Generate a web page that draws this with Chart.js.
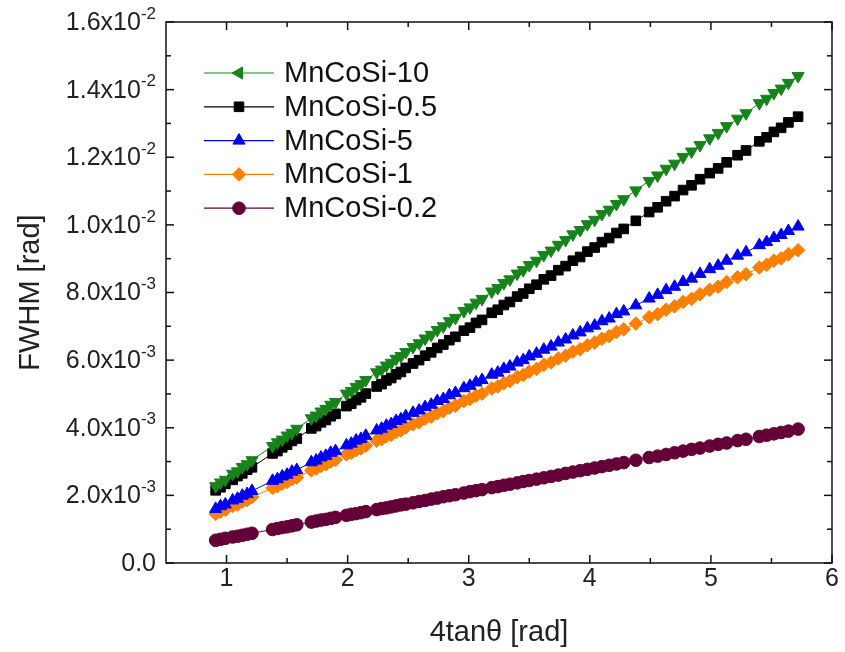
<!DOCTYPE html>
<html>
<head>
<meta charset="utf-8">
<script src="https://cdn.jsdelivr.net/npm/chart.js@4/dist/chart.umd.min.js"></script>
<style>
  body{margin:0;background:#fff;}
  #wrap{width:845px;height:652px;position:relative;}
</style>
</head>
<body>
<div id="wrap"><canvas id="chart"></canvas></div>
<script>
// 4tan(theta) positions, shared by all samples (peaks come in clusters)
const xVals=[0.91,0.95,0.99, 1.05,1.09,1.13,1.17,1.21, 1.38,1.42,1.46,1.50,1.54,1.58,
  1.70,1.74,1.78,1.82,1.86,1.90, 1.99,2.03,2.07,2.11,2.15, 2.24,2.28,2.32,2.36,2.40,2.44,2.48,
  2.54,2.59,2.64,2.69,2.74,2.79,2.84,2.89, 2.96,3.01,3.06,3.11, 3.19,3.24,3.29,3.34,
  3.40,3.45,3.50,3.56,3.62,3.68,3.74,3.80,3.86,3.92, 3.98,4.04,4.10,4.16,4.22,4.28, 4.38,
  4.49,4.56,4.63,4.70, 4.77,4.84,4.91, 4.99,5.06,5.13, 5.22,5.29, 5.40,5.46,5.52,5.58,5.64,5.72];

// FWHM values in units of 1e-3 rad
const mn10=[2.27,2.38,2.46, 2.64,2.71,2.84,2.92,3.04, 3.46,3.57,3.65,3.77,3.85,3.97,
  4.28,4.36,4.48,4.56,4.68,4.76, 5.01,5.09,5.21,5.29,5.41, 5.64,5.72,5.84,5.92,6.04,6.12,6.24,
  6.39,6.50,6.64,6.75,6.89,7.00,7.15,7.25, 7.45,7.56,7.70,7.81, 8.03,8.13,8.28,8.39,
  8.56,8.66,8.81,8.94,9.11,9.24,9.41,9.55,9.72,9.85, 10.02,10.15,10.32,10.45,10.62,10.76, 11.02,
  11.30,11.46,11.66,11.81, 12.01,12.17,12.36, 12.56,12.72,12.92, 13.14,13.30, 13.60,13.73,13.90,14.03,14.20,14.40];
const mn05=[2.15,2.24,2.34, 2.46,2.57,2.65,2.76,2.83, 3.24,3.31,3.42,3.50,3.61,3.68,
  3.98,4.05,4.16,4.23,4.34,4.41, 4.64,4.71,4.82,4.90,5.01, 5.22,5.29,5.40,5.47,5.58,5.65,5.77,
  5.90,6.00,6.13,6.23,6.36,6.46,6.59,6.69, 6.87,6.96,7.10,7.19, 7.40,7.49,7.63,7.72,
  7.88,7.97,8.11,8.23,8.39,8.50,8.66,8.78,8.94,9.05, 9.21,9.33,9.49,9.61,9.76,9.88, 10.12,
  10.38,10.52,10.70,10.85, 11.03,11.17,11.35, 11.53,11.67,11.85, 12.06,12.20, 12.47,12.59,12.75,12.87,13.03,13.20];
const mn5=[1.60,1.68,1.73, 1.85,1.90,1.99,2.04,2.13, 2.43,2.48,2.56,2.61,2.70,2.75,
  2.98,3.03,3.12,3.17,3.26,3.31, 3.48,3.53,3.62,3.67,3.76, 3.92,3.97,4.06,4.11,4.20,4.25,4.34,
  4.44,4.51,4.61,4.68,4.79,4.85,4.96,5.03, 5.17,5.24,5.34,5.41, 5.57,5.63,5.74,5.81,
  5.93,6.00,6.11,6.19,6.31,6.40,6.52,6.61,6.73,6.82, 6.94,7.02,7.15,7.23,7.36,7.44, 7.62,
  7.82,7.93,8.07,8.17, 8.31,8.41,8.55, 8.69,8.79,8.94, 9.09,9.19, 9.40,9.49,9.61,9.70,9.82,9.95];
const mn1=[1.45,1.52,1.57, 1.69,1.73,1.82,1.86,1.95, 2.22,2.27,2.35,2.40,2.48,2.53,
  2.74,2.79,2.87,2.92,3.00,3.05, 3.21,3.26,3.34,3.39,3.47, 3.62,3.66,3.75,3.79,3.88,3.92,4.01,
  4.10,4.16,4.27,4.33,4.43,4.49,4.59,4.65, 4.79,4.85,4.95,5.01, 5.16,5.22,5.32,5.38,
  5.50,5.56,5.66,5.74,5.86,5.93,6.05,6.13,6.25,6.32, 6.44,6.52,6.63,6.71,6.83,6.91, 7.08,
  7.27,7.36,7.49,7.59, 7.72,7.81,7.95, 8.08,8.17,8.31, 8.45,8.54, 8.74,8.82,8.94,9.01,9.13,9.25];
const mn02=[0.67,0.70,0.73, 0.77,0.79,0.82,0.85,0.88, 0.99,1.02,1.05,1.07,1.10,1.13,
  1.21,1.24,1.27,1.29,1.32,1.35, 1.41,1.44,1.46,1.49,1.52, 1.58,1.61,1.63,1.66,1.69,1.72,1.74,
  1.78,1.82,1.85,1.89,1.92,1.96,1.99,2.02, 2.07,2.11,2.14,2.17, 2.23,2.26,2.30,2.33,
  2.37,2.41,2.44,2.48,2.52,2.56,2.60,2.65,2.69,2.73, 2.77,2.81,2.85,2.89,2.93,2.97, 3.04,
  3.12,3.16,3.21,3.26, 3.31,3.36,3.40, 3.46,3.51,3.55, 3.62,3.66, 3.74,3.78,3.82,3.86,3.90,3.96];

const seriesNames=['MnCoSi-10','MnCoSi-0.5','MnCoSi-5','MnCoSi-1','MnCoSi-0.2'];
const seriesColors=['#17831b','#000000','#0000f5','#ff8000','#640037'];

const xTicks=[1,2,3,4,5,6];
const xMinor=[1.5,2.5,3.5,4.5,5.5];
const yTicks=[0,0.002,0.004,0.006,0.008,0.010,0.012,0.014,0.016];
const yMinor=[0.001,0.003,0.005,0.007,0.009,0.011,0.013,0.015];
const yMant=['0.0','2.0','4.0','6.0','8.0','1.0','1.2','1.4','1.6'];
const yExp=['','-3','-3','-3','-3','-2','-2','-2','-2'];

const marker=[
  {style:'triangle',rot:180,legendRot:270,r:7},
  {style:'rect',rot:0,legendRot:0,r:6.8},
  {style:'triangle',rot:0,legendRot:0,r:7},
  {style:'rectRot',rot:0,legendRot:0,r:6.8},
  {style:'circle',rot:0,legendRot:0,r:6.3}
];

const allY=[mn10,mn05,mn5,mn1,mn02];
const datasets=allY.map((arr,k)=>({
  label:seriesNames[k],
  data:xVals.map((x,i)=>({x:x,y:arr[i]*1e-3})),
  borderColor:seriesColors[k],
  backgroundColor:seriesColors[k],
  borderWidth:1,
  pointStyle:marker[k].style,
  rotation:marker[k].rot,
  pointRadius:marker[k].r,
  pointBorderWidth:1,
  pointBorderColor:seriesColors[k],
  pointBackgroundColor:seriesColors[k],
  showLine:true,
  tension:0
}));

function drawMarker(ctx,m,rot,x,y){
  ctx.save();
  ctx.translate(x,y);
  ctx.rotate(rot*Math.PI/180);
  ctx.beginPath();
  const r=m.r;
  if(m.style==='triangle'){
    ctx.moveTo(0,-r);ctx.lineTo(r*0.866,r*0.5);ctx.lineTo(-r*0.866,r*0.5);ctx.closePath();
  }else if(m.style==='rect'){
    const s=r*Math.SQRT1_2;ctx.rect(-s,-s,2*s,2*s);
  }else if(m.style==='rectRot'){
    ctx.moveTo(0,-r);ctx.lineTo(r,0);ctx.lineTo(0,r);ctx.lineTo(-r,0);ctx.closePath();
  }else{
    ctx.arc(0,0,r,0,Math.PI*2);
  }
  ctx.fill();ctx.stroke();
  ctx.restore();
}

const FONT='"Liberation Sans", Arial, sans-serif';

const framePlugin={
  id:'frame',
  afterDraw(chart){
    const ctx=chart.ctx,a=chart.chartArea,xs=chart.scales.x,ys=chart.scales.y;
    ctx.save();
    ctx.strokeStyle='#111';ctx.lineWidth=1.5;
    ctx.strokeRect(a.left,a.top,a.right-a.left,a.bottom-a.top);
    function seg(x1,y1,x2,y2){ctx.beginPath();ctx.moveTo(x1,y1);ctx.lineTo(x2,y2);ctx.stroke();}
    xTicks.forEach(v=>{const p=xs.getPixelForValue(v);seg(p,a.bottom,p,a.bottom-8);seg(p,a.top,p,a.top+8);});
    xMinor.forEach(v=>{const p=xs.getPixelForValue(v);seg(p,a.bottom,p,a.bottom-5);seg(p,a.top,p,a.top+5);});
    yTicks.forEach(v=>{const p=ys.getPixelForValue(v);seg(a.left,p,a.left+8,p);seg(a.right,p,a.right-8,p);});
    yMinor.forEach(v=>{const p=ys.getPixelForValue(v);seg(a.left,p,a.left+5,p);seg(a.right,p,a.right-5,p);});

    // tick labels
    ctx.fillStyle='#222';
    ctx.font='25px '+FONT;
    ctx.textAlign='center';ctx.textBaseline='top';
    xTicks.forEach(v=>{ctx.fillText(String(v),xs.getPixelForValue(v),a.bottom+4);});

    yTicks.forEach((v,i)=>{
      const p=ys.getPixelForValue(v);
      const right=a.left-10;
      ctx.textBaseline='middle';ctx.textAlign='left';
      if(yExp[i]){
        ctx.font='17px '+FONT;
        const we=ctx.measureText(yExp[i]).width;
        ctx.font='25px '+FONT;
        const base=yMant[i]+'x10';
        const wb=ctx.measureText(base).width;
        ctx.fillText(base,right-we-wb,p+1);
        ctx.font='17px '+FONT;
        ctx.fillText(yExp[i],right-we,p-8);
      }else{
        ctx.font='25px '+FONT;
        const wb=ctx.measureText(yMant[i]).width;
        ctx.fillText(yMant[i],right-wb,p+1);
      }
    });

    // axis titles
    ctx.font='29px '+FONT;
    ctx.textAlign='center';ctx.textBaseline='middle';
    ctx.fillText('4tan\u03b8 [rad]',(a.left+a.right)/2,633);
    ctx.save();
    ctx.translate(31,(a.top+a.bottom)/2);
    ctx.rotate(-Math.PI/2);
    ctx.fillText('FWHM [rad]',0,0);
    ctx.restore();

    // legend
    seriesNames.forEach((name,k)=>{
      const ly=73+k*33.8;
      ctx.strokeStyle=seriesColors[k];ctx.fillStyle=seriesColors[k];ctx.lineWidth=1.2;
      seg(204,ly,274,ly);
      ctx.lineWidth=1;
      drawMarker(ctx,marker[k],marker[k].legendRot,239,ly);
      ctx.fillStyle='#111';
      ctx.font='29px '+FONT;
      ctx.textAlign='left';ctx.textBaseline='middle';
      ctx.fillText(name,284,ly+1);
    });
    ctx.restore();
  }
};

new Chart(document.getElementById('chart'),{
  type:'scatter',
  data:{datasets:datasets},
  options:{
    responsive:true,
    maintainAspectRatio:false,
    animation:false,
    layout:{padding:{top:22,right:13,left:0,bottom:0}},
    plugins:{legend:{display:false},tooltip:{enabled:false}},
    scales:{
      x:{type:'linear',min:0.5,max:6,
        grid:{display:false},border:{display:false},
        ticks:{display:false},
        afterFit:s=>{s.height=89;}},
      y:{type:'linear',min:0,max:0.016,
        grid:{display:false},border:{display:false},
        ticks:{display:false},
        afterFit:s=>{s.width=166;}}
    }
  },
  plugins:[framePlugin]
});
</script>
</body>
</html>
